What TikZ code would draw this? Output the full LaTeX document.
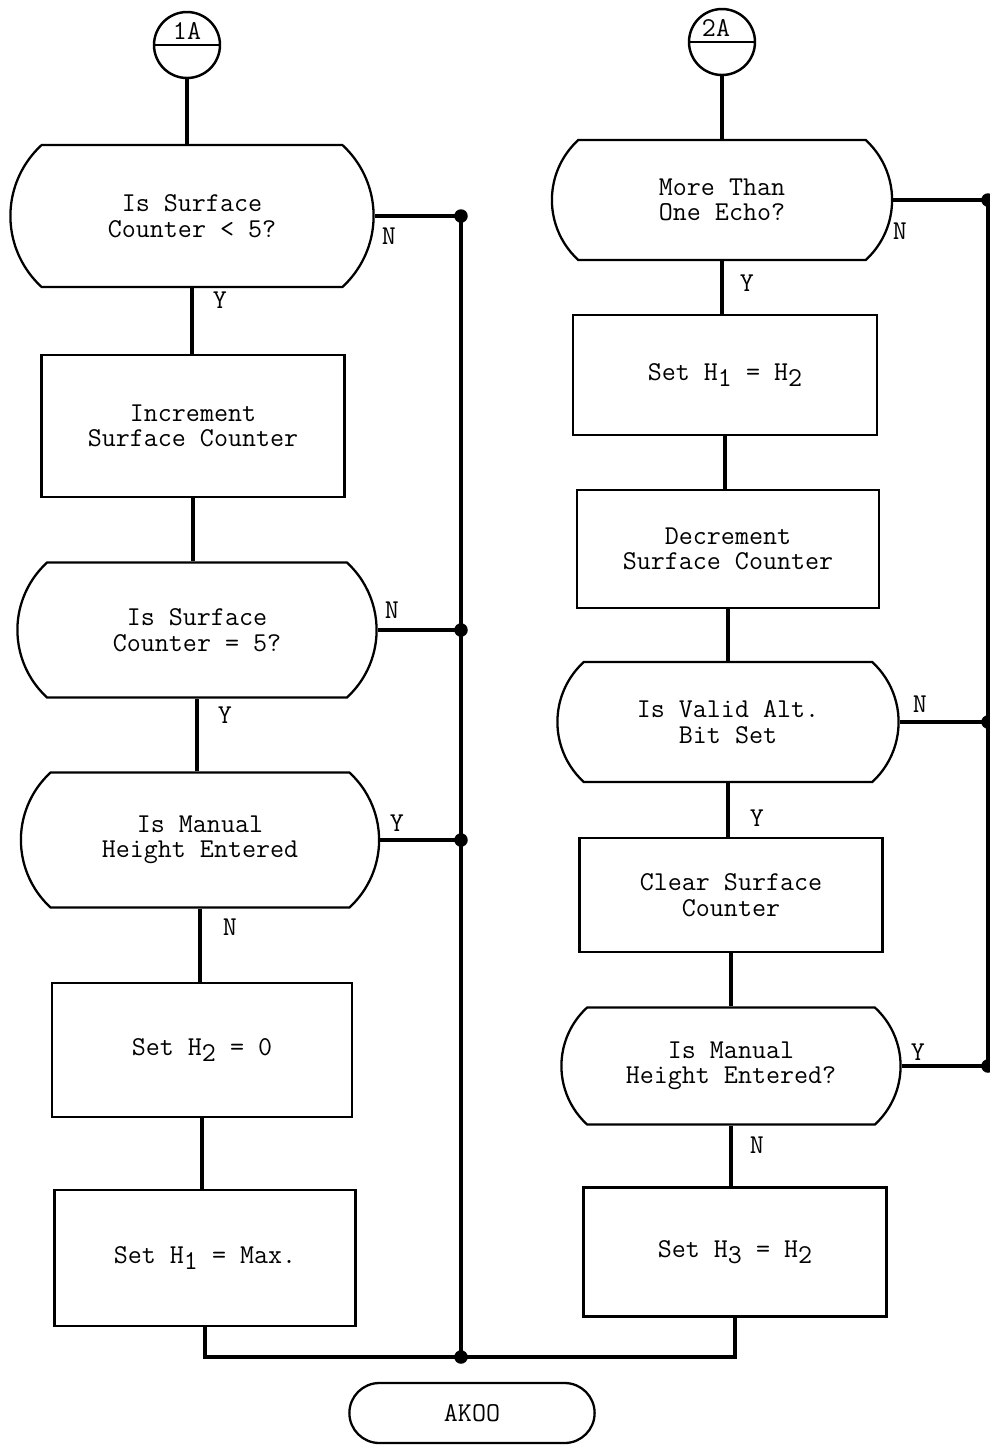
\documentclass[tikz,border=0pt]{standalone}
\usepackage{tikz}
\usetikzlibrary{shapes,arrows,positioning}
\newcommand{\lowidx}[1]{\raisebox{-0.55ex}{#1}}

\begin{document}
\begin{tikzpicture}[
    x=0.02cm, y=-0.02cm,
    every node/.style={font=\ttfamily\fontsize{15.5pt}{14.5pt}\selectfont},
    procbox/.style={
        rectangle,
        draw=black,
        line width=1.3pt,
        minimum width=6.05cm,
        align=center
    },
    decision/.style={
        rounded rectangle,
        rounded rectangle arc length=95,
        draw=black,
        line width=1.3pt,
        align=center
    },
    terminal/.style={
        rounded rectangle,
        draw=black,
        line width=1.3pt,
        minimum width=5.14cm,
        minimum height=1.2cm
    },
    conn/.style={
        circle,
        draw=black,
        line width=1.4pt,
        minimum size=1.32cm
    },
    flow/.style={line width=2.2pt},
    dot/.style={circle, fill=black, inner sep=0pt, minimum size=0.27cm},
    lbl/.style={inner sep=1pt}
]
    \useasboundingbox (0,0) rectangle (990,1445);

    % Define nodes - left column
    \node[conn] (c1a) at (187,45) {};
    \draw[line width=1.4pt] (c1a.west) -- (c1a.east);
    \node at (187,31) {1A};
    \node[decision, minimum width=7.5cm, minimum height=2.84cm] (surf5) at (192,216) {Is Surface\\Counter < 5?};
    \node[procbox, minimum width=6.06cm, minimum height=2.84cm] (inc) at (193,426) {Increment\\Surface Counter};
    \node[decision, minimum width=7.42cm, minimum height=2.7cm] (surfeq) at (197,630) {Is Surface\\Counter = 5?};
    \node[decision, minimum width=7.4cm, minimum height=2.7cm] (manual) at (200,840) {Is Manual\\Height Entered};
    \node[procbox, minimum width=6.0cm, minimum height=2.68cm] (seth2) at (202,1050) {Set H\lowidx{2} = 0};
    \node[procbox, minimum width=6.02cm, minimum height=2.72cm] (seth1) at (205,1258) {Set H\lowidx{1} = Max.};

    % Define nodes - right column
    \node[conn] (c2a) at (722,42) {};
    \draw[line width=1.4pt] (c2a.west) -- (c2a.east);
    \node at (716,28) {2A};
    \node[decision, minimum width=7.04cm, minimum height=2.4cm] (echo) at (722,200) {More Than\\One Echo?};
    \node[procbox, minimum width=6.08cm, minimum height=2.4cm] (seth12) at (725,375) {Set H\lowidx{1} = H\lowidx{2}};
    \node[procbox, minimum width=6.04cm, minimum height=2.36cm] (dec) at (728,549) {Decrement\\Surface Counter};
    \node[decision, minimum width=7.06cm, minimum height=2.4cm] (valid) at (728,722) {Is Valid Alt.\\Bit Set};
    \node[procbox, minimum width=6.06cm, minimum height=2.28cm] (clear) at (731,895) {Clear Surface\\Counter};
    \node[decision, minimum width=7.02cm, minimum height=2.34cm] (manual2) at (731,1066) {Is Manual\\Height Entered?};
    \node[procbox, minimum width=6.06cm, minimum height=2.58cm] (seth3) at (735,1252) {Set H\lowidx{3} = H\lowidx{2}};

    \node[terminal] (exit) at (472,1413) {AKOO};

    % Bus lines
    \coordinate (busL) at (461,0);
    \coordinate (busR) at (988,0);
    \coordinate (join) at (461,1357);

    % Straight connectors - left column
    \draw[flow] (c1a.south) -- (c1a.south |- surf5.north);
    \draw[flow] (surf5.south) -- (surf5.south |- inc.north);
    \draw[flow] (inc.south) -- (inc.south |- surfeq.north);
    \draw[flow] (surfeq.south) -- (surfeq.south |- manual.north);
    \draw[flow] (manual.south) -- (manual.south |- seth2.north);
    \draw[flow] (seth2.south) -- (seth2.south |- seth1.north);
    \draw[flow] (seth1.south) |- (join);

    % Straight connectors - right column
    \draw[flow] (c2a.south) -- (c2a.south |- echo.north);
    \draw[flow] (echo.south) -- (echo.south |- seth12.north);
    \draw[flow] (seth12.south) -- (seth12.south |- dec.north);
    \draw[flow] (dec.south) -- (dec.south |- valid.north);
    \draw[flow] (valid.south) -- (valid.south |- clear.north);
    \draw[flow] (clear.south) -- (clear.south |- manual2.north);
    \draw[flow] (manual2.south) -- (manual2.south |- seth3.north);
    \draw[flow] (seth3.south) |- (join);

    % Side branches
    \draw[flow] (surf5.east) -- (surf5.east -| busL) -- (join);
    \draw[flow] (surfeq.east) -- (surfeq.east -| busL);
    \draw[flow] (manual.east) -- (manual.east -| busL);
    \draw[flow] (echo.east) -- (echo.east -| busR) -- (manual2.east -| busR);
    \draw[flow] (valid.east) -- (valid.east -| busR);
    \draw[flow] (manual2.east) -- (manual2.east -| busR);

    % Junction dots
    \node[dot] at (surf5.east -| busL) {};
    \node[dot] at (surfeq.east -| busL) {};
    \node[dot] at (manual.east -| busL) {};
    \node[dot] at (join) {};
    \node[dot] at (echo.east -| busR) {};
    \node[dot] at (valid.east -| busR) {};
    \node[dot] at (manual2.east -| busR) {};

    % Branch labels
    \node[lbl] at (389,236) {N};
    \node[lbl] at (220,300) {Y};
    \node[lbl] at (392,610) {N};
    \node[lbl] at (225,715) {Y};
    \node[lbl] at (397,823) {Y};
    \node[lbl] at (230,927) {N};
    \node[lbl] at (900,231) {N};
    \node[lbl] at (747,283) {Y};
    \node[lbl] at (920,704) {N};
    \node[lbl] at (757,818) {Y};
    \node[lbl] at (918,1052) {Y};
    \node[lbl] at (757,1145) {N};
\end{tikzpicture}
\end{document}
